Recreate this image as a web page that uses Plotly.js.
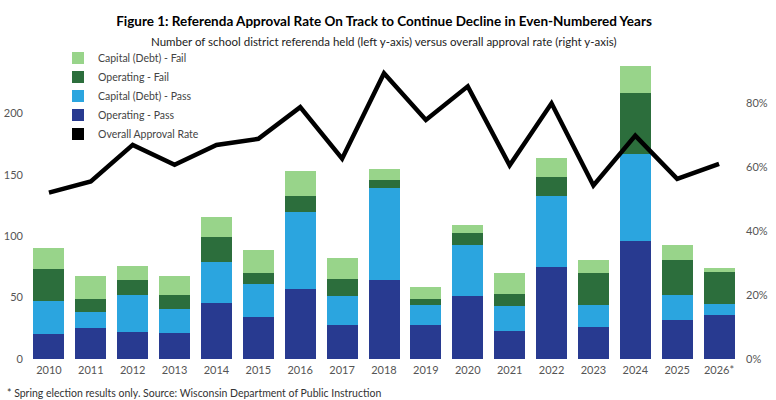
<!DOCTYPE html>
<html>
<head>
<meta charset="utf-8">
<script src="https://cdn.plot.ly/plotly-3.0.1.min.js"></script>
<style>html,body{margin:0;padding:0;background:#fff;}#chart{width:776px;height:400px;}</style>
</head>
<body>
<div id="chart"></div>
<script>
var years = ["2010","2011","2012","2013","2014","2015","2016","2017","2018","2019","2020","2021","2022","2023","2024","2025","2026*"];
var operatingPass = [20, 25, 22, 21, 46, 34, 57, 28, 64, 28, 51, 23, 75, 26, 96, 32, 36];
var capitalPass   = [27, 13, 30, 20, 33, 27, 63, 23, 75, 16, 42, 20, 58, 18, 71, 20, 9];
var operatingFail = [26, 11, 12, 11, 20,  9, 13, 14,  7,  5, 10, 10, 15, 26, 50, 29, 26];
var capitalFail   = [17, 19, 12, 16, 17, 19, 20, 17,  9, 10,  6, 17, 16, 11, 22, 12,  3];
var approvalRate  = [0.52, 0.555, 0.669, 0.607, 0.669, 0.688, 0.787, 0.626, 0.893, 0.747, 0.852, 0.605, 0.799, 0.542, 0.698, 0.563, 0.610];
var leftTicks = [0, 50, 100, 150, 200];
var rightTicks = [0, 0.2, 0.4, 0.6, 0.8];
var rightTickText = ["0%", "20%", "40%", "60%", "80%"];

var FONT = "Lato, 'Noto Sans', sans-serif";
var colors = {
  capFail: "#98d48a",
  opFail: "#2c6e3c",
  capPass: "#2ba5df",
  opPass: "#283a90"
};

var traces = [
  {type: "bar", name: "Operating - Pass", x: years, y: operatingPass, marker: {color: colors.opPass}, legendrank: 4},
  {type: "bar", name: "Capital (Debt) - Pass", x: years, y: capitalPass, marker: {color: colors.capPass}, legendrank: 3},
  {type: "bar", name: "Operating - Fail", x: years, y: operatingFail, marker: {color: colors.opFail}, legendrank: 2},
  {type: "bar", name: "Capital (Debt) - Fail", x: years, y: capitalFail, marker: {color: colors.capFail}, legendrank: 1},
  {type: "scatter", mode: "lines", name: "Overall Approval Rate", x: years, y: approvalRate, yaxis: "y2",
   line: {color: "#000000", width: 4.5}, showlegend: false, cliponaxis: false},
  {type: "bar", name: "Overall Approval Rate", x: years, y: years.map(function(){return null;}),
   marker: {color: "#000000"}, legendrank: 5, hoverinfo: "skip"}
];

var layout = {
  width: 776, height: 400,
  margin: {l: 28, r: 36, t: 52, b: 41, pad: 0},
  paper_bgcolor: "#ffffff", plot_bgcolor: "#ffffff",
  font: {family: FONT, color: "#555555", size: 11},
  barmode: "stack",
  bargap: 0.26,
  showlegend: true,
  title: {
    text: "<b>Figure 1: Referenda Approval Rate On Track to Continue Decline in Even-Numbered Years</b>",
    font: {family: FONT, size: 13.5, color: "#000000"},
    x: 0.5, xanchor: "center", xref: "paper",
    y: 1 - 21/400, yref: "container", yanchor: "middle"
  },
  annotations: [
    {text: "Number of school district referenda held (left y-axis) versus overall approval rate (right y-axis)",
     xref: "paper", yref: "paper", x: 0.5, xanchor: "center", y: (358.5-41)/307, yanchor: "middle",
     showarrow: false, font: {family: FONT, size: 11.5, color: "#222222"}},
    {text: "* Spring election results only. Source: Wisconsin Department of Public Instruction",
     xref: "paper", yref: "paper", x: (5-28)/712, xanchor: "left", y: (358.5-392.5)/307, yanchor: "middle",
     showarrow: false, font: {family: FONT, size: 10.5, color: "#333333"}}
  ],
  legend: {
    x: (58-28)/712, xanchor: "left",
    y: (358.5-43)/307, yanchor: "top",
    bgcolor: "rgba(255,255,255,0)",
    font: {family: FONT, size: 10.5, color: "#444444"},
    traceorder: "normal",
    itemclick: false
  },
  xaxis: {
    type: "category",
    range: [-0.5, 16.5],
    showgrid: false, zeroline: false, showline: false,
    ticks: "", ticklabelstandoff: 3, tickfont: {size: 11, color: "#555555"},
    fixedrange: true
  },
  yaxis: {
    range: [0, 250],
    tickvals: leftTicks,
    showgrid: false, zeroline: false, showline: false,
    ticks: "", ticklabelstandoff: 4,
    tickfont: {size: 11, color: "#555555"},
    fixedrange: true
  },
  yaxis2: {
    overlaying: "y", side: "right",
    range: [0, 307/320],
    tickvals: rightTicks, ticktext: rightTickText,
    showgrid: false, zeroline: false, showline: false,
    ticks: "", ticklabelstandoff: 5,
    tickfont: {size: 11, color: "#555555"},
    fixedrange: true
  }
};

Plotly.newPlot("chart", traces, layout, {displayModeBar: false, staticPlot: true});
</script>
</body>
</html>
